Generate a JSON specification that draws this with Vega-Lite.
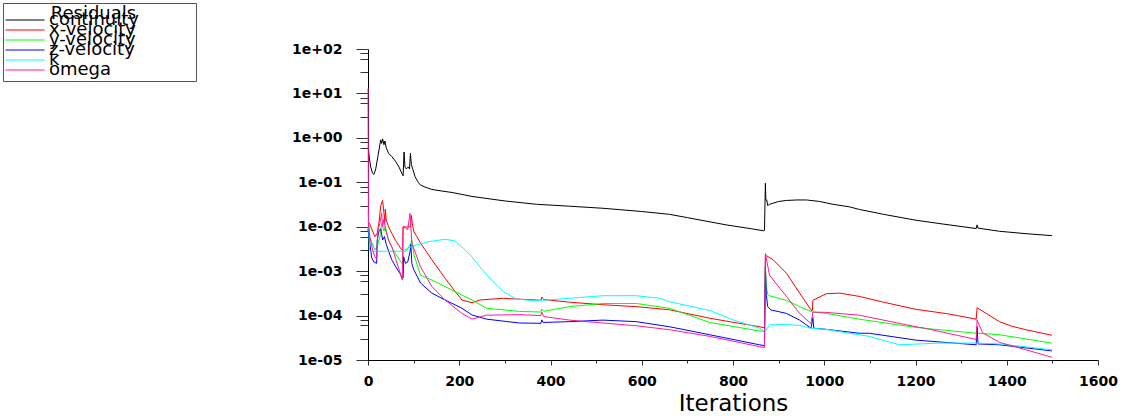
{
  "$schema": "https://vega.github.io/schema/vega-lite/v6.json",
  "width": 730,
  "height": 311,
  "autosize": {"type": "none"},
  "padding": {"left": 368, "top": 49, "right": 31, "bottom": 59},
  "background": "white",
  "config": {"view": {"stroke": null}},
  "data": {"values": [
    {"series":"continuity","iteration":0,"residual":0.6},{"series":"continuity","iteration":1,"residual":0.55},{"series":"continuity","iteration":3,"residual":0.35},{"series":"continuity","iteration":6,"residual":0.22},{"series":"continuity","iteration":10,"residual":0.16},{"series":"continuity","iteration":13,"residual":0.15},{"series":"continuity","iteration":17,"residual":0.2},{"series":"continuity","iteration":22,"residual":0.4},{"series":"continuity","iteration":26,"residual":0.7},{"series":"continuity","iteration":28,"residual":0.9},{"series":"continuity","iteration":30,"residual":0.75},{"series":"continuity","iteration":32,"residual":0.95},{"series":"continuity","iteration":35,"residual":0.7},{"series":"continuity","iteration":37,"residual":0.85},{"series":"continuity","iteration":40,"residual":0.6},{"series":"continuity","iteration":45,"residual":0.45},{"series":"continuity","iteration":52,"residual":0.38},{"series":"continuity","iteration":60,"residual":0.3},{"series":"continuity","iteration":68,"residual":0.22},{"series":"continuity","iteration":74,"residual":0.16},{"series":"continuity","iteration":77,"residual":0.14},{"series":"continuity","iteration":79,"residual":0.48},{"series":"continuity","iteration":81,"residual":0.22},{"series":"continuity","iteration":84,"residual":0.2},{"series":"continuity","iteration":88,"residual":0.22},{"series":"continuity","iteration":91,"residual":0.2},{"series":"continuity","iteration":93,"residual":0.45},{"series":"continuity","iteration":95,"residual":0.25},{"series":"continuity","iteration":98,"residual":0.2},{"series":"continuity","iteration":103,"residual":0.135},{"series":"continuity","iteration":110,"residual":0.1},{"series":"continuity","iteration":115,"residual":0.087},{"series":"continuity","iteration":125,"residual":0.078},{"series":"continuity","iteration":140,"residual":0.069},{"series":"continuity","iteration":160,"residual":0.064},{"series":"continuity","iteration":184,"residual":0.059},{"series":"continuity","iteration":228,"residual":0.048},{"series":"continuity","iteration":300,"residual":0.038},{"series":"continuity","iteration":369,"residual":0.032},{"series":"continuity","iteration":440,"residual":0.029},{"series":"continuity","iteration":515,"residual":0.026},{"series":"continuity","iteration":600,"residual":0.022},{"series":"continuity","iteration":661,"residual":0.019},{"series":"continuity","iteration":700,"residual":0.016},{"series":"continuity","iteration":785,"residual":0.011},{"series":"continuity","iteration":840,"residual":0.009},{"series":"continuity","iteration":867,"residual":0.0081},{"series":"continuity","iteration":869,"residual":0.0082},{"series":"continuity","iteration":871,"residual":0.095},{"series":"continuity","iteration":872,"residual":0.04},{"series":"continuity","iteration":874,"residual":0.04},{"series":"continuity","iteration":876,"residual":0.03},{"series":"continuity","iteration":880,"residual":0.032},{"series":"continuity","iteration":900,"residual":0.037},{"series":"continuity","iteration":917,"residual":0.039},{"series":"continuity","iteration":940,"residual":0.04},{"series":"continuity","iteration":961,"residual":0.04},{"series":"continuity","iteration":990,"residual":0.037},{"series":"continuity","iteration":1019,"residual":0.032},{"series":"continuity","iteration":1055,"residual":0.028},{"series":"continuity","iteration":1077,"residual":0.0245},{"series":"continuity","iteration":1130,"residual":0.019},{"series":"continuity","iteration":1201,"residual":0.014},{"series":"continuity","iteration":1260,"residual":0.0115},{"series":"continuity","iteration":1333,"residual":0.0091},{"series":"continuity","iteration":1335,"residual":0.011},{"series":"continuity","iteration":1337,"residual":0.0093},{"series":"continuity","iteration":1384,"residual":0.0079},{"series":"continuity","iteration":1440,"residual":0.007},{"series":"continuity","iteration":1499,"residual":0.0063},

    {"series":"x-velocity","iteration":0,"residual":0.013},{"series":"x-velocity","iteration":3,"residual":0.012},{"series":"x-velocity","iteration":8,"residual":0.009},{"series":"x-velocity","iteration":15,"residual":0.006},{"series":"x-velocity","iteration":20,"residual":0.007},{"series":"x-velocity","iteration":24,"residual":0.012},{"series":"x-velocity","iteration":28,"residual":0.03},{"series":"x-velocity","iteration":32,"residual":0.039},{"series":"x-velocity","iteration":35,"residual":0.02},{"series":"x-velocity","iteration":37,"residual":0.013},{"series":"x-velocity","iteration":38,"residual":0.025},{"series":"x-velocity","iteration":40,"residual":0.014},{"series":"x-velocity","iteration":45,"residual":0.01},{"series":"x-velocity","iteration":52,"residual":0.0071},{"series":"x-velocity","iteration":60,"residual":0.005},{"series":"x-velocity","iteration":68,"residual":0.0037},{"series":"x-velocity","iteration":74,"residual":0.003},{"series":"x-velocity","iteration":76,"residual":0.0029},{"series":"x-velocity","iteration":77,"residual":0.01},{"series":"x-velocity","iteration":85,"residual":0.0098},{"series":"x-velocity","iteration":93,"residual":0.01},{"series":"x-velocity","iteration":95,"residual":0.018},{"series":"x-velocity","iteration":97,"residual":0.012},{"series":"x-velocity","iteration":100,"residual":0.008},{"series":"x-velocity","iteration":115,"residual":0.0043},{"series":"x-velocity","iteration":140,"residual":0.0018},{"series":"x-velocity","iteration":169,"residual":0.00069},{"series":"x-velocity","iteration":190,"residual":0.00036},{"series":"x-velocity","iteration":206,"residual":0.000224},{"series":"x-velocity","iteration":228,"residual":0.000195},{"series":"x-velocity","iteration":245,"residual":0.000224},{"series":"x-velocity","iteration":296,"residual":0.000245},{"series":"x-velocity","iteration":369,"residual":0.000224},{"series":"x-velocity","iteration":379,"residual":0.00022},{"series":"x-velocity","iteration":381,"residual":0.00026},{"series":"x-velocity","iteration":385,"residual":0.00023},{"series":"x-velocity","iteration":442,"residual":0.0002},{"series":"x-velocity","iteration":515,"residual":0.000175},{"series":"x-velocity","iteration":588,"residual":0.000159},{"series":"x-velocity","iteration":661,"residual":0.000135},{"series":"x-velocity","iteration":749,"residual":0.000087},{"series":"x-velocity","iteration":858,"residual":0.000056},{"series":"x-velocity","iteration":869,"residual":0.000053},{"series":"x-velocity","iteration":871,"residual":0.0023},{"series":"x-velocity","iteration":888,"residual":0.0018},{"series":"x-velocity","iteration":917,"residual":0.0009},{"series":"x-velocity","iteration":946,"residual":0.00032},{"series":"x-velocity","iteration":971,"residual":0.000134},{"series":"x-velocity","iteration":974,"residual":0.00013},{"series":"x-velocity","iteration":975,"residual":0.00022},{"series":"x-velocity","iteration":1004,"residual":0.00031},{"series":"x-velocity","iteration":1034,"residual":0.00032},{"series":"x-velocity","iteration":1077,"residual":0.00027},{"series":"x-velocity","iteration":1130,"residual":0.0002},{"series":"x-velocity","iteration":1201,"residual":0.000138},{"series":"x-velocity","iteration":1270,"residual":0.00011},{"series":"x-velocity","iteration":1333,"residual":0.000083},{"series":"x-velocity","iteration":1335,"residual":0.00015},{"series":"x-velocity","iteration":1384,"residual":0.000073},{"series":"x-velocity","iteration":1410,"residual":0.000058},{"series":"x-velocity","iteration":1442,"residual":0.000048},{"series":"x-velocity","iteration":1499,"residual":0.000036},

    {"series":"y-velocity","iteration":0,"residual":0.01},{"series":"y-velocity","iteration":3,"residual":0.006},{"series":"y-velocity","iteration":8,"residual":0.0045},{"series":"y-velocity","iteration":15,"residual":0.003},{"series":"y-velocity","iteration":20,"residual":0.0035},{"series":"y-velocity","iteration":26,"residual":0.006},{"series":"y-velocity","iteration":30,"residual":0.012},{"series":"y-velocity","iteration":35,"residual":0.008},{"series":"y-velocity","iteration":38,"residual":0.01},{"series":"y-velocity","iteration":45,"residual":0.005},{"series":"y-velocity","iteration":52,"residual":0.0035},{"series":"y-velocity","iteration":60,"residual":0.0025},{"series":"y-velocity","iteration":74,"residual":0.0015},{"series":"y-velocity","iteration":76,"residual":0.0014},{"series":"y-velocity","iteration":77,"residual":0.0027},{"series":"y-velocity","iteration":85,"residual":0.003},{"series":"y-velocity","iteration":93,"residual":0.004},{"series":"y-velocity","iteration":96,"residual":0.005},{"series":"y-velocity","iteration":100,"residual":0.0025},{"series":"y-velocity","iteration":115,"residual":0.00081},{"series":"y-velocity","iteration":140,"residual":0.00063},{"series":"y-velocity","iteration":169,"residual":0.00045},{"series":"y-velocity","iteration":206,"residual":0.00029},{"series":"y-velocity","iteration":228,"residual":0.000224},{"series":"y-velocity","iteration":260,"residual":0.000146},{"series":"y-velocity","iteration":332,"residual":0.000124},{"series":"y-velocity","iteration":379,"residual":0.00012},{"series":"y-velocity","iteration":381,"residual":0.00014},{"series":"y-velocity","iteration":385,"residual":0.000125},{"series":"y-velocity","iteration":442,"residual":0.000159},{"series":"y-velocity","iteration":515,"residual":0.000187},{"series":"y-velocity","iteration":588,"residual":0.000187},{"series":"y-velocity","iteration":661,"residual":0.000146},{"series":"y-velocity","iteration":749,"residual":0.00007},{"series":"y-velocity","iteration":858,"residual":0.000045},{"series":"y-velocity","iteration":869,"residual":0.000044},{"series":"y-velocity","iteration":871,"residual":0.0013},{"series":"y-velocity","iteration":873,"residual":0.00045},{"series":"y-velocity","iteration":876,"residual":0.0003},{"series":"y-velocity","iteration":880,"residual":0.00028},{"series":"y-velocity","iteration":917,"residual":0.00022},{"series":"y-velocity","iteration":946,"residual":0.000159},{"series":"y-velocity","iteration":971,"residual":0.000124},{"series":"y-velocity","iteration":975,"residual":0.00012},{"series":"y-velocity","iteration":1004,"residual":0.000112},{"series":"y-velocity","iteration":1077,"residual":0.000083},{"series":"y-velocity","iteration":1201,"residual":0.000054},{"series":"y-velocity","iteration":1333,"residual":0.00004},{"series":"y-velocity","iteration":1335,"residual":0.00005},{"series":"y-velocity","iteration":1337,"residual":0.00004},{"series":"y-velocity","iteration":1384,"residual":0.000037},{"series":"y-velocity","iteration":1499,"residual":0.000024},

    {"series":"z-velocity","iteration":0,"residual":0.009},{"series":"z-velocity","iteration":3,"residual":0.005},{"series":"z-velocity","iteration":8,"residual":0.002},{"series":"z-velocity","iteration":13,"residual":0.0016},{"series":"z-velocity","iteration":19,"residual":0.0015},{"series":"z-velocity","iteration":20,"residual":0.005},{"series":"z-velocity","iteration":24,"residual":0.008},{"series":"z-velocity","iteration":28,"residual":0.009},{"series":"z-velocity","iteration":32,"residual":0.005},{"series":"z-velocity","iteration":36,"residual":0.006},{"series":"z-velocity","iteration":40,"residual":0.004},{"series":"z-velocity","iteration":52,"residual":0.0018},{"series":"z-velocity","iteration":60,"residual":0.0013},{"series":"z-velocity","iteration":74,"residual":0.00076},{"series":"z-velocity","iteration":77,"residual":0.0007},{"series":"z-velocity","iteration":78,"residual":0.0021},{"series":"z-velocity","iteration":82,"residual":0.0015},{"series":"z-velocity","iteration":87,"residual":0.0016},{"series":"z-velocity","iteration":92,"residual":0.0027},{"series":"z-velocity","iteration":94,"residual":0.004},{"series":"z-velocity","iteration":96,"residual":0.0015},{"series":"z-velocity","iteration":100,"residual":0.0011},{"series":"z-velocity","iteration":115,"residual":0.00054},{"series":"z-velocity","iteration":140,"residual":0.00032},{"series":"z-velocity","iteration":169,"residual":0.000224},{"series":"z-velocity","iteration":206,"residual":0.000146},{"series":"z-velocity","iteration":228,"residual":0.000103},{"series":"z-velocity","iteration":260,"residual":0.000083},{"series":"z-velocity","iteration":332,"residual":0.000068},{"series":"z-velocity","iteration":379,"residual":0.000067},{"series":"z-velocity","iteration":381,"residual":0.00008},{"series":"z-velocity","iteration":384,"residual":0.00007},{"series":"z-velocity","iteration":442,"residual":0.000073},{"series":"z-velocity","iteration":515,"residual":0.000079},{"series":"z-velocity","iteration":588,"residual":0.000073},{"series":"z-velocity","iteration":661,"residual":0.000056},{"series":"z-velocity","iteration":749,"residual":0.000037},{"series":"z-velocity","iteration":858,"residual":0.000022},{"series":"z-velocity","iteration":869,"residual":0.000021},{"series":"z-velocity","iteration":871,"residual":0.0012},{"series":"z-velocity","iteration":873,"residual":0.0003},{"series":"z-velocity","iteration":876,"residual":0.00016},{"series":"z-velocity","iteration":883,"residual":0.000134},{"series":"z-velocity","iteration":917,"residual":0.000112},{"series":"z-velocity","iteration":946,"residual":0.000079},{"series":"z-velocity","iteration":971,"residual":0.000052},{"series":"z-velocity","iteration":975,"residual":0.00009},{"series":"z-velocity","iteration":977,"residual":0.000052},{"series":"z-velocity","iteration":1004,"residual":0.000049},{"series":"z-velocity","iteration":1077,"residual":0.00004},{"series":"z-velocity","iteration":1099,"residual":0.00004},{"series":"z-velocity","iteration":1201,"residual":0.000028},{"series":"z-velocity","iteration":1333,"residual":0.000022},{"series":"z-velocity","iteration":1335,"residual":0.000056},{"series":"z-velocity","iteration":1337,"residual":0.000023},{"series":"z-velocity","iteration":1384,"residual":0.000022},{"series":"z-velocity","iteration":1499,"residual":0.000016},

    {"series":"k","iteration":0,"residual":0.022},{"series":"k","iteration":2,"residual":0.01},{"series":"k","iteration":3,"residual":0.0028},{"series":"k","iteration":20,"residual":0.0028},{"series":"k","iteration":60,"residual":0.0028},{"series":"k","iteration":74,"residual":0.0028},{"series":"k","iteration":96,"residual":0.0036},{"series":"k","iteration":132,"residual":0.0046},{"series":"k","iteration":169,"residual":0.0052},{"series":"k","iteration":191,"residual":0.0048},{"series":"k","iteration":210,"residual":0.0032},{"series":"k","iteration":228,"residual":0.0021},{"series":"k","iteration":245,"residual":0.00126},{"series":"k","iteration":267,"residual":0.00069},{"series":"k","iteration":296,"residual":0.00035},{"series":"k","iteration":325,"residual":0.000235},{"series":"k","iteration":369,"residual":0.000215},{"series":"k","iteration":442,"residual":0.000245},{"series":"k","iteration":515,"residual":0.00028},{"series":"k","iteration":588,"residual":0.00028},{"series":"k","iteration":639,"residual":0.000245},{"series":"k","iteration":661,"residual":0.000205},{"series":"k","iteration":749,"residual":0.00013},{"series":"k","iteration":800,"residual":0.00008},{"series":"k","iteration":858,"residual":0.000052},{"series":"k","iteration":871,"residual":0.000044},{"series":"k","iteration":880,"residual":0.000062},{"series":"k","iteration":917,"residual":0.000063},{"series":"k","iteration":946,"residual":0.00006},{"series":"k","iteration":971,"residual":0.000052},{"series":"k","iteration":1004,"residual":0.000049},{"series":"k","iteration":1055,"residual":0.00004},{"series":"k","iteration":1099,"residual":0.000034},{"series":"k","iteration":1165,"residual":0.000022},{"series":"k","iteration":1253,"residual":0.000024},{"series":"k","iteration":1333,"residual":0.000024},{"series":"k","iteration":1384,"residual":0.000023},{"series":"k","iteration":1499,"residual":0.000017},

    {"series":"omega","iteration":0,"residual":13},{"series":"omega","iteration":1,"residual":0.012},{"series":"omega","iteration":4,"residual":0.006},{"series":"omega","iteration":10,"residual":0.003},{"series":"omega","iteration":15,"residual":0.0021},{"series":"omega","iteration":19,"residual":0.0019},{"series":"omega","iteration":22,"residual":0.0085},{"series":"omega","iteration":26,"residual":0.012},{"series":"omega","iteration":30,"residual":0.02},{"series":"omega","iteration":32,"residual":0.01},{"series":"omega","iteration":35,"residual":0.015},{"series":"omega","iteration":38,"residual":0.009},{"series":"omega","iteration":45,"residual":0.005},{"series":"omega","iteration":52,"residual":0.0036},{"series":"omega","iteration":60,"residual":0.002},{"series":"omega","iteration":68,"residual":0.0011},{"series":"omega","iteration":75,"residual":0.00063},{"series":"omega","iteration":77,"residual":0.01},{"series":"omega","iteration":87,"residual":0.0086},{"series":"omega","iteration":92,"residual":0.02},{"series":"omega","iteration":94,"residual":0.01},{"series":"omega","iteration":96,"residual":0.0043},{"series":"omega","iteration":115,"residual":0.00126},{"series":"omega","iteration":140,"residual":0.00045},{"series":"omega","iteration":169,"residual":0.000224},{"series":"omega","iteration":206,"residual":0.000112},{"series":"omega","iteration":228,"residual":0.000083},{"series":"omega","iteration":260,"residual":0.000102},{"series":"omega","iteration":332,"residual":0.000105},{"series":"omega","iteration":379,"residual":0.0001},{"series":"omega","iteration":381,"residual":0.00012},{"series":"omega","iteration":385,"residual":0.000095},{"series":"omega","iteration":442,"residual":0.000079},{"series":"omega","iteration":515,"residual":0.000068},{"series":"omega","iteration":588,"residual":0.000059},{"series":"omega","iteration":661,"residual":0.000048},{"series":"omega","iteration":749,"residual":0.000034},{"series":"omega","iteration":858,"residual":0.00002},{"series":"omega","iteration":869,"residual":0.000019},{"series":"omega","iteration":871,"residual":0.0025},{"series":"omega","iteration":880,"residual":0.00081},{"series":"omega","iteration":917,"residual":0.00027},{"series":"omega","iteration":946,"residual":0.000112},{"series":"omega","iteration":971,"residual":0.000066},{"series":"omega","iteration":975,"residual":0.00012},{"series":"omega","iteration":1004,"residual":0.000118},{"series":"omega","iteration":1077,"residual":0.000102},{"series":"omega","iteration":1201,"residual":0.000056},{"series":"omega","iteration":1220,"residual":0.000052},{"series":"omega","iteration":1333,"residual":0.000029},{"series":"omega","iteration":1335,"residual":0.000079},{"series":"omega","iteration":1347,"residual":0.000041},{"series":"omega","iteration":1384,"residual":0.000025},{"series":"omega","iteration":1442,"residual":0.000017},{"series":"omega","iteration":1499,"residual":0.0000115}
  ]},
  "mark": {"type": "line", "strokeWidth": 1},
  "encoding": {
    "x": {
      "field": "iteration", "type": "quantitative",
      "scale": {"domain": [0, 1600], "nice": false, "zero": false},
      "axis": {
        "title": "Iterations",
        "values": [0,100,200,300,400,500,600,700,800,900,1000,1100,1200,1300,1400,1500,1600],
        "labelExpr": "datum.value % 200 == 0 ? format(datum.value, 'd') : ''",
        "tickSize": {"condition": {"test": "datum.value % 200 == 0", "value": 5}, "value": 3},
        "labelPadding": 9,
        "labelFlush": false,
        "labelOverlap": false,
        "labelFont": "DejaVu Sans", "labelFontWeight": "bold", "labelFontSize": 14, "labelColor": "black",
        "titleFont": "DejaVu Sans", "titleFontWeight": "normal", "titleFontSize": 23, "titleColor": "black",
        "titlePadding": 4,
        "domainColor": "black", "tickColor": "#333", "grid": false
      }
    },
    "y": {
      "field": "residual", "type": "quantitative",
      "scale": {"type": "log", "domain": [0.00001, 100], "nice": false},
      "axis": {
        "title": null,
        "values": [0.00001,0.00003,0.00006,0.00008,0.0001,0.0003,0.0006,0.0008,0.001,0.003,0.006,0.008,0.01,0.03,0.06,0.08,0.1,0.3,0.6,0.8,1,3,6,8,10,30,60,80,100],
        "labelExpr": "abs(log(datum.value)/LN10 - round(log(datum.value)/LN10)) < 0.01 ? ('1e' + (datum.value >= 1 ? '+' : '-') + '0' + abs(round(log(datum.value)/LN10))) : ''",
        "tickSize": {"condition": {"test": "abs(log(datum.value)/LN10 - round(log(datum.value)/LN10)) < 0.01", "value": 12}, "value": 8},
        "labelPadding": 14,
        "labelFlush": false,
        "labelOverlap": false,
        "labelFont": "DejaVu Sans", "labelFontWeight": "bold", "labelFontSize": 14, "labelColor": "black",
        "domainColor": "black", "tickColor": "#333", "grid": false
      }
    },
    "color": {
      "field": "series", "type": "nominal",
      "scale": {
        "domain": ["continuity", "x-velocity", "y-velocity", "z-velocity", "k", "omega"],
        "range": ["#000000", "#ff0000", "#00ff00", "#0000ff", "#00ffff", "#ff1a9c"]
      },
      "legend": {
        "orient": "none", "legendX": -365, "legendY": -46,
        "title": "\u200b\u00a0\u00a0\u00a0\u00a0\u00a0\u00a0\u00a0\u00a0Residuals\u00a0\u00a0\u00a0\u00a0\u00a0\u00a0\u00a0\u00a0\u00a0\u00a0\u200b",
        "titleLimit": 400,
        "titleFont": "DejaVu Sans", "titleFontSize": 18, "titleFontWeight": "normal", "titleColor": "black",
        "titlePadding": -4,
        "symbolType": "stroke", "symbolSize": 1521, "symbolStrokeWidth": 1,
        "clipHeight": 2,
        "labelFont": "DejaVu Sans", "labelFontSize": 18, "labelColor": "black", "labelOffset": 4,
        "rowPadding": -8,
        "strokeColor": "#555", "fillColor": "white", "padding": 2
      }
    }
  }
}
